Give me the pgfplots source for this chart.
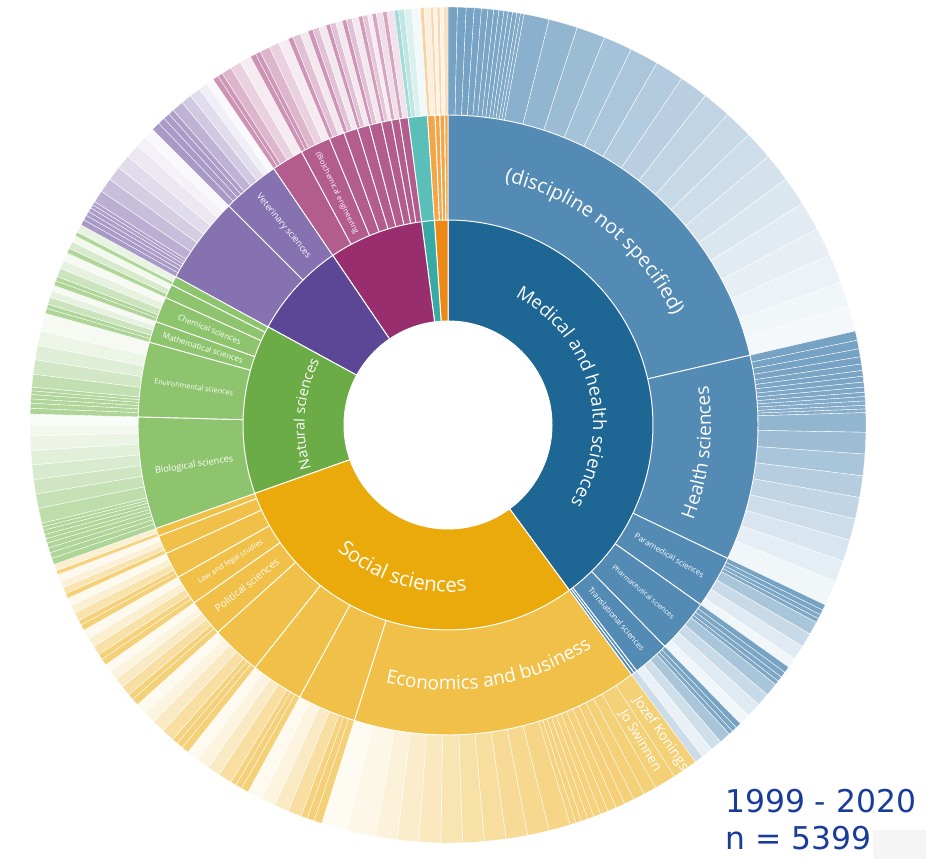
\documentclass[border=0pt]{standalone}
\usepackage{pgfplots}
\pgfplotsset{compat=1.18}
\usepackage{fontspec}
\usetikzlibrary{decorations.text}
\newfontfamily\labf{Open Sans}
\newfontfamily\yrf{DejaVu Sans}
\definecolor{blueI}{RGB}{30,102,148}
\definecolor{blueM}{RGB}{84,139,181}
\definecolor{yelI}{RGB}{234,170,12}
\definecolor{yelM}{RGB}{241,192,72}
\definecolor{greI}{RGB}{107,172,70}
\definecolor{greM}{RGB}{142,196,110}
\definecolor{purI}{RGB}{92,70,150}
\definecolor{purM}{RGB}{134,114,176}
\definecolor{magI}{RGB}{152,46,110}
\definecolor{magM}{RGB}{179,92,142}
\definecolor{teaI}{RGB}{56,170,165}
\definecolor{teaM}{RGB}{90,190,185}
\definecolor{orI}{RGB}{236,136,20}
\definecolor{orM}{RGB}{242,166,72}
\definecolor{txt}{RGB}{25,60,155}
% sector: angle a, angle b, radius, fill colour, border width
\newcommand\sect[5]{%
  \pgfmathsetmacro\dA{min(#1,#2)}%
  \pgfmathsetmacro\dB{max(#1,#2)}%
  \pgfmathtruncatemacro\ns{abs(#2-#1)/2.5+4}%
  \edef\temp{\noexpand\addplot[fill=#4,draw=white,line width=#5,domain=\dA:\dB,samples=\ns,variable=\noexpand\t]
    ({#3*cos(\noexpand\t)},{#3*sin(\noexpand\t)}) -- (axis cs:0,0) -- cycle;}%
  \temp}
\newcommand\ob[4]{\sect{#1}{#2}{418}{#3!#4!white}{0.35bp}}
\newcommand\mb[3]{\sect{#1}{#2}{310}{#3}{0.9bp}}
\newcommand\ib[3]{\sect{#1}{#2}{205}{#3}{1bp}}
\newcommand\rlab[5]{\node[rotate=#3,text=white,inner sep=0pt,font=\labf\fontsize{#4}{#4}\selectfont] at ([shift={(#1:#2bp)}]axis cs:0,0) {#5};}
\begin{document}
\begin{tikzpicture}
\begin{axis}[name=ax, hide axis, x=1bp, y=1bp, xmin=-448, xmax=478, ymin=-434, ymax=425, clip=false]
% ---------- outer ring ----------
% (discipline not specified)
\ob{90}{88.7}{blueM}{80}\ob{88.7}{87.5}{blueM}{80}\ob{87.5}{86.4}{blueM}{80}\ob{86.4}{85.4}{blueM}{79}
\ob{85.4}{84.5}{blueM}{78}\ob{84.5}{83.7}{blueM}{78}\ob{83.7}{83.0}{blueM}{77}\ob{83.0}{82.3}{blueM}{76}
\ob{82.3}{81.7}{blueM}{76}\ob{81.7}{81.1}{blueM}{75}\ob{81.1}{80.5}{blueM}{74}\ob{80.5}{80.0}{blueM}{73}
\ob{80.0}{79.5}{blueM}{72}\ob{79.5}{76}{blueM}{68}\ob{76}{72}{blueM}{63}\ob{72}{68}{blueM}{58}
\ob{68}{64}{blueM}{53}\ob{64}{60}{blueM}{49}\ob{60}{56}{blueM}{45}\ob{56}{52}{blueM}{41}
\ob{52}{48}{blueM}{37}\ob{48}{44}{blueM}{33}\ob{44}{40}{blueM}{29}\ob{40}{36}{blueM}{25}
\ob{36}{32}{blueM}{21}\ob{32}{28}{blueM}{17}\ob{28}{24}{blueM}{14}\ob{24}{20}{blueM}{11}
\ob{20}{16.5}{blueM}{8}\ob{16.5}{13}{blueM}{6}
% Health sciences
\ob{13}{11.7}{blueM}{80}\ob{11.7}{10.5}{blueM}{80}\ob{10.5}{9.4}{blueM}{80}\ob{9.4}{8.4}{blueM}{79}
\ob{8.4}{7.5}{blueM}{78}\ob{7.5}{6.7}{blueM}{78}\ob{6.7}{5.9}{blueM}{77}\ob{5.9}{5.2}{blueM}{76}
\ob{5.2}{4.5}{blueM}{75}\ob{4.5}{3.9}{blueM}{74}\ob{3.9}{3.3}{blueM}{73}\ob{3.3}{2.7}{blueM}{72}
\ob{2.7}{2.2}{blueM}{71}\ob{2.2}{1.7}{blueM}{70}\ob{1.7}{-1}{blueM}{64}\ob{-1}{-4}{blueM}{57}
\ob{-4}{-7}{blueM}{50}\ob{-7}{-10}{blueM}{43}\ob{-10}{-13}{blueM}{36}\ob{-13}{-16}{blueM}{29}
\ob{-16}{-19}{blueM}{22}\ob{-19}{-22}{blueM}{15}\ob{-22}{-25.5}{blueM}{8}
% Paramedical
\ob{-25.5}{-26.3}{blueM}{80}\ob{-26.3}{-27.0}{blueM}{78}\ob{-27.0}{-27.6}{blueM}{76}\ob{-27.6}{-28.2}{blueM}{74}
\ob{-28.2}{-30}{blueM}{50}\ob{-30}{-32}{blueM}{32}\ob{-32}{-34}{blueM}{18}\ob{-34}{-35.4}{blueM}{8}
% Pharmaceutical
\ob{-35.4}{-36.3}{blueM}{80}\ob{-36.3}{-37.1}{blueM}{78}\ob{-37.1}{-37.8}{blueM}{76}\ob{-37.8}{-38.4}{blueM}{74}
\ob{-38.4}{-40.2}{blueM}{50}\ob{-40.2}{-42}{blueM}{32}\ob{-42}{-44}{blueM}{18}\ob{-44}{-45.6}{blueM}{8}
% Translational
\ob{-45.6}{-46.4}{blueM}{80}\ob{-46.4}{-47.1}{blueM}{78}\ob{-47.1}{-47.7}{blueM}{75}
\ob{-47.7}{-49.3}{blueM}{50}\ob{-49.3}{-50.9}{blueM}{28}\ob{-50.9}{-52.5}{blueM}{12}
\ob{-52.5}{-53.7}{blueM}{30}
% Economics and business
\ob{306.3}{302.8}{yelM}{75}\ob{302.8}{299.8}{yelM}{75}\ob{299.8}{298.0}{yelM}{75}\ob{298.0}{296.4}{yelM}{75}
\ob{296.4}{295.0}{yelM}{74}\ob{295.0}{293.7}{yelM}{74}\ob{293.7}{292.5}{yelM}{73}\ob{292.5}{291.4}{yelM}{73}
\ob{291.4}{290.4}{yelM}{72}\ob{290.4}{289.5}{yelM}{72}\ob{289.5}{288.6}{yelM}{71}\ob{288.6}{287.8}{yelM}{71}
\ob{287.8}{287}{yelM}{70}\ob{287}{284}{yelM}{66}\ob{284}{281}{yelM}{62}\ob{281}{278}{yelM}{58}
\ob{278}{275}{yelM}{53}\ob{275}{272}{yelM}{48}\ob{272}{269}{yelM}{42}\ob{269}{266}{yelM}{35}
\ob{266}{263}{yelM}{28}\ob{263}{260}{yelM}{20}\ob{260}{256}{yelM}{13}\ob{256}{252.4}{yelM}{7}
% other social sciences
\ob{252.4}{251.3}{yelM}{75}\ob{251.3}{250.3}{yelM}{74}\ob{250.3}{249.4}{yelM}{72}\ob{249.4}{247.5}{yelM}{52}
\ob{247.5}{245.5}{yelM}{33}\ob{245.5}{243.5}{yelM}{18}\ob{243.5}{241.4}{yelM}{8}
\ob{241.4}{240.4}{yelM}{75}\ob{240.4}{239.5}{yelM}{74}\ob{239.5}{238.7}{yelM}{72}\ob{238.7}{236.8}{yelM}{52}
\ob{236.8}{235}{yelM}{33}\ob{235}{233.2}{yelM}{18}\ob{233.2}{231.5}{yelM}{8}
\ob{231.5}{230.5}{yelM}{75}\ob{230.5}{229.6}{yelM}{74}\ob{229.6}{228.8}{yelM}{72}\ob{228.8}{227}{yelM}{52}
\ob{227}{225.2}{yelM}{33}\ob{225.2}{223.6}{yelM}{18}\ob{223.6}{222}{yelM}{8}
\ob{222}{221}{yelM}{75}\ob{221}{220.2}{yelM}{73}\ob{220.2}{218.8}{yelM}{52}\ob{218.8}{217.4}{yelM}{33}
\ob{217.4}{216.2}{yelM}{18}\ob{216.2}{215}{yelM}{8}
\ob{215}{214.1}{yelM}{75}\ob{214.1}{213.3}{yelM}{73}\ob{213.3}{212}{yelM}{48}\ob{212}{210.7}{yelM}{26}\ob{210.7}{209.4}{yelM}{10}
\ob{209.4}{208.6}{yelM}{75}\ob{208.6}{207.9}{yelM}{73}\ob{207.9}{206.7}{yelM}{46}\ob{206.7}{205.6}{yelM}{24}\ob{205.6}{204.5}{yelM}{10}
\ob{204.5}{203.8}{yelM}{75}\ob{203.8}{202.9}{yelM}{44}\ob{202.9}{202}{yelM}{22}\ob{202}{201}{yelM}{9}
\ob{201}{200.4}{yelM}{70}\ob{200.4}{199.5}{yelM}{25}
% Biological sciences
\ob{199.5}{198.6}{greM}{72}\ob{198.6}{197.8}{greM}{72}\ob{197.8}{197.1}{greM}{71}\ob{197.1}{196.4}{greM}{71}
\ob{196.4}{195.8}{greM}{70}\ob{195.8}{195.2}{greM}{70}\ob{195.2}{194.6}{greM}{69}\ob{194.6}{194.1}{greM}{68}
\ob{194.1}{193.6}{greM}{67}\ob{193.6}{191.5}{greM}{58}\ob{191.5}{189.5}{greM}{50}\ob{189.5}{187.5}{greM}{42}
\ob{187.5}{185.5}{greM}{34}\ob{185.5}{183.5}{greM}{26}\ob{183.5}{181.5}{greM}{18}\ob{181.5}{180}{greM}{10}
\ob{180}{178.5}{greM}{5}
% Environmental
\ob{178.5}{177.7}{greM}{72}\ob{177.7}{177.0}{greM}{71}\ob{177.0}{176.4}{greM}{70}\ob{176.4}{175.8}{greM}{69}
\ob{175.8}{175.3}{greM}{68}\ob{175.3}{174.8}{greM}{67}\ob{174.8}{173}{greM}{54}\ob{173}{171}{greM}{40}
\ob{171}{169}{greM}{28}\ob{169}{167}{greM}{17}\ob{167}{164.5}{greM}{8}
% Mathematical, Chemical, others
\ob{164.5}{163.8}{greM}{72}\ob{163.8}{163.2}{greM}{70}\ob{163.2}{162.2}{greM}{45}\ob{162.2}{161.3}{greM}{22}\ob{161.3}{160.5}{greM}{8}
\ob{160.5}{159.8}{greM}{72}\ob{159.8}{159.2}{greM}{70}\ob{159.2}{158}{greM}{45}\ob{158}{156.8}{greM}{22}\ob{156.8}{155.7}{greM}{8}
\ob{155.7}{155}{greM}{70}\ob{155}{154}{greM}{35}\ob{154}{153.1}{greM}{10}
\ob{153.1}{152.5}{greM}{70}\ob{152.5}{151.4}{greM}{20}
% purple
\ob{151.4}{150.6}{purM}{72}\ob{150.6}{149.9}{purM}{71}\ob{149.9}{149.3}{purM}{70}\ob{149.3}{148.7}{purM}{69}
\ob{148.7}{148.2}{purM}{68}\ob{148.2}{147.7}{purM}{67}\ob{147.7}{146}{purM}{57}\ob{146}{144}{purM}{46}
\ob{144}{142}{purM}{35}\ob{142}{140}{purM}{25}\ob{140}{138}{purM}{16}\ob{138}{136.5}{purM}{9}\ob{136.5}{135}{purM}{5}
% Veterinary
\ob{135}{133.8}{purM}{72}\ob{133.8}{132.8}{purM}{71}\ob{132.8}{131.9}{purM}{70}\ob{131.9}{131.1}{purM}{68}
\ob{131.1}{129.5}{purM}{54}\ob{129.5}{128}{purM}{38}\ob{128}{126.5}{purM}{24}\ob{126.5}{125.3}{purM}{12}\ob{125.3}{124.2}{purM}{5}
% magenta
\ob{124.2}{123.4}{magM}{66}\ob{123.4}{122.7}{magM}{64}\ob{122.7}{121.3}{magM}{45}\ob{121.3}{119.8}{magM}{28}\ob{119.8}{118.2}{magM}{12}
\ob{118.2}{117.4}{magM}{66}\ob{117.4}{116.7}{magM}{64}\ob{116.7}{115.3}{magM}{45}\ob{115.3}{113.9}{magM}{28}\ob{113.9}{112.5}{magM}{12}
\ob{112.5}{111.8}{magM}{65}\ob{111.8}{110.7}{magM}{38}\ob{110.7}{109.6}{magM}{14}
\ob{109.6}{108.9}{magM}{65}\ob{108.9}{108}{magM}{38}\ob{108}{107}{magM}{14}
\ob{107}{106.4}{magM}{65}\ob{106.4}{105.6}{magM}{38}\ob{105.6}{104.7}{magM}{14}
\ob{104.7}{104.1}{magM}{65}\ob{104.1}{103.3}{magM}{38}\ob{103.3}{102.4}{magM}{14}
\ob{102.4}{101.8}{magM}{60}\ob{101.8}{101.1}{magM}{35}\ob{101.1}{100.5}{magM}{12}
\ob{100.5}{99.9}{magM}{55}\ob{99.9}{99}{magM}{20}
\ob{99}{98.4}{magM}{55}\ob{98.4}{97.4}{magM}{18}
% teal
\ob{97.4}{96.8}{teaM}{55}\ob{96.8}{96.0}{teaM}{38}\ob{96.0}{95.0}{teaM}{22}\ob{95.0}{93.8}{teaM}{8}
% orange
\ob{93.8}{93.3}{orM}{50}\ob{93.3}{92.4}{orM}{18}\ob{92.4}{92.0}{orM}{45}\ob{92.0}{91.5}{orM}{15}
\ob{91.5}{91.1}{orM}{45}\ob{91.1}{90.6}{orM}{15}\ob{90.6}{90}{orM}{35}
% ---------- middle ring ----------
\mb{90}{13}{blueM}\mb{13}{-25.5}{blueM}\mb{-25.5}{-35.4}{blueM}\mb{-35.4}{-45.6}{blueM}
\mb{-45.6}{-52.5}{blueM}\mb{-52.5}{-53.1}{blueM}\mb{-53.1}{-53.7}{blueM}
\mb{306.3}{252.4}{yelM}\mb{252.4}{241.4}{yelM}\mb{241.4}{231.5}{yelM}\mb{231.5}{222}{yelM}
\mb{222}{215}{yelM}\mb{215}{209.4}{yelM}\mb{209.4}{204.5}{yelM}\mb{204.5}{201}{yelM}\mb{201}{199.5}{yelM}
\mb{199.5}{178.5}{greM}\mb{178.5}{164.5}{greM}\mb{164.5}{160.5}{greM}\mb{160.5}{155.7}{greM}
\mb{155.7}{153.1}{greM}\mb{153.1}{151.4}{greM}
\mb{151.4}{135}{purM}\mb{135}{124.2}{purM}
\mb{124.2}{118.2}{magM}\mb{118.2}{112.5}{magM}\mb{112.5}{109.6}{magM}\mb{109.6}{107}{magM}
\mb{107}{104.7}{magM}\mb{104.7}{102.4}{magM}\mb{102.4}{100.5}{magM}\mb{100.5}{99}{magM}\mb{99}{97.4}{magM}
\mb{97.4}{93.8}{teaM}
\mb{93.8}{92.4}{orM}\mb{92.4}{91.5}{orM}\mb{91.5}{90.6}{orM}\mb{90.6}{90}{orM}
% ---------- inner ring ----------
\ib{-53.7}{90}{blueI}\ib{90}{93.8}{orI}\ib{93.8}{97.4}{teaI}\ib{97.4}{124.2}{magI}
\ib{124.2}{151.4}{purI}\ib{151.4}{199.5}{greI}\ib{199.5}{306.3}{yelI}
% hole
\addplot[fill=white,draw=white,line width=1bp,domain=0:360,samples=145] ({104*cos(x)},{104*sin(x)});
% ---------- curved labels ----------
\path[decorate,decoration={text along path,text align=center,
  text={|\labf\fontsize{18.5}{18.5}\selectfont\color{white}|Medical and health sciences}}]
  ([shift={(85:145bp)}]axis cs:0,0) arc[start angle=85,end angle=-55,radius=145bp];
\path[decorate,decoration={text along path,text align=center,
  text={|\labf\fontsize{20}{20}\selectfont\color{white}|(discipline not specified)}}]
  ([shift={(89.4:250bp)}]axis cs:0,0) arc[start angle=89.4,end angle=13.4,radius=250bp];
\path[decorate,decoration={text along path,text align=center,
  text={|\labf\fontsize{19}{19}\selectfont\color{white}|Health sciences}}]
  ([shift={(-25.3:263bp)}]axis cs:0,0) arc[start angle=-25.3,end angle=12.7,radius=263bp];
\path[decorate,decoration={text along path,text align=center,
  text={|\labf\fontsize{20.5}{20.5}\selectfont\color{white}|Social sciences}}]
  ([shift={(200:167bp)}]axis cs:0,0) arc[start angle=200,end angle=305,radius=167bp];
\path[decorate,decoration={text along path,text align=center,
  text={|\labf\fontsize{19}{19}\selectfont\color{white}|Economics and business}}]
  ([shift={(253.2:265bp)}]axis cs:0,0) arc[start angle=253.2,end angle=306,radius=265bp];
\path[decorate,decoration={text along path,text align=center,
  text={|\labf\fontsize{14.5}{14.5}\selectfont\color{white}|Natural sciences}}]
  ([shift={(199:143.5bp)}]axis cs:0,0) arc[start angle=199,end angle=152,radius=143.5bp];
% ---------- radial labels ----------
\rlab{115.6}{257}{-64.4}{7.5}{(Bio)chemical engineering}
\rlab{129.6}{258}{-50.4}{9}{Veterinary sciences}
\rlab{158.1}{257}{-21.9}{8}{Chemical sciences}
\rlab{162.5}{257}{-17.5}{8}{Mathematical sciences}
\rlab{171.5}{257}{-8.5}{7.3}{Environmental sciences}
\rlab{189}{257}{9}{9.2}{Biological sciences}
\rlab{212.2}{257}{32.2}{7.6}{Law and legal studies}
\rlab{218.5}{257}{38.5}{10.2}{Political sciences}
\rlab{-30.5}{257}{-30.5}{8}{Paramedical sciences}
\rlab{-40.5}{257}{-40.5}{7}{Pharmaceutical sciences}
\rlab{-49}{257}{-49}{8}{Translational sciences}
\rlab{-55.45}{375}{-55.45}{14}{Jozef Konings}
\rlab{-58.7}{370}{-58.7}{13.5}{Jo Swinnen}
% ---------- period note ----------
\fill[black!4] (axis cs:425,-434) rectangle (axis cs:478,-405);
\node[anchor=base west,inner sep=0pt,text=txt,font=\yrf\fontsize{31.5}{31.5}\selectfont] at (axis cs:277,-388) {1999 - 2020};
\node[anchor=base west,inner sep=0pt,text=txt,font=\yrf\fontsize{31.5}{31.5}\selectfont] at (axis cs:277,-425) {n = 5399};
\end{axis}
\pgfresetboundingbox
\path (ax.south west) rectangle (ax.north east);
\end{tikzpicture}
\end{document}
